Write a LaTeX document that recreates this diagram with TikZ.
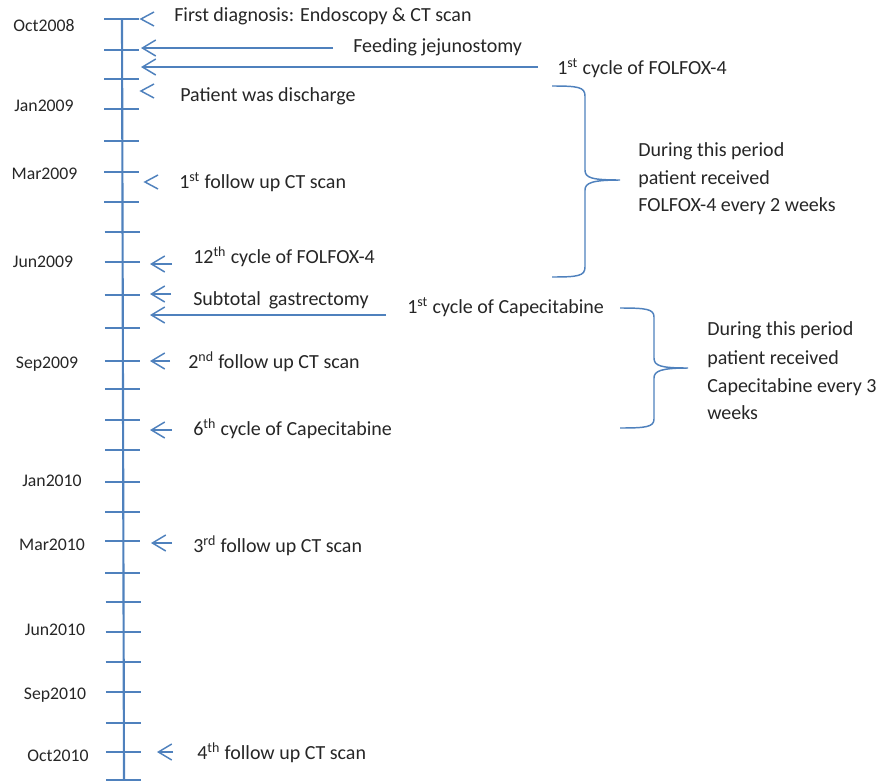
\documentclass[tikz,border=0pt]{standalone}
\usepackage{fontspec}
\setmainfont{Carlito}
\usetikzlibrary{arrows.meta}
\definecolor{lineblue}{HTML}{4F81BD}
\definecolor{txt}{HTML}{262626}
\begin{document}
\begin{tikzpicture}[x=0.75pt,y=-0.75pt,
  axisline/.style={lineblue,line width=1.6pt},
  tickline/.style={lineblue,line width=1.2pt},
  evt/.style={anchor=mid west,inner sep=0pt,yshift=-2.2pt,font=\fontsize{15}{18}\selectfont,text=txt},
  datelbl/.style={anchor=mid,inner sep=0pt,yshift=-2.2pt,font=\fontsize{13.3}{16}\selectfont,text=txt},
  ptr/.style={lineblue,line width=1.1pt,-{Straight Barb[length=10pt,width=12pt]}},
  chev/.style={lineblue,line width=1.1pt},
  bracepath/.style={lineblue,line width=1.1pt},
  note/.style={anchor=mid west,inner sep=0pt,yshift=-2.2pt,font=\fontsize{15}{18}\selectfont,text=txt}]
\path[use as bounding box] (0,0) rectangle (881,782);

% axis
\coordinate (axtop) at (122,19);
\coordinate (axbot) at (124,780);
\draw[axisline] (axtop) -- (axbot);
\foreach \ty in {19,50,79,109,141,172,202,232,262,295,328,361,389,420,450,482,512,541,573,602,632,662,692,723,752,780}{
  \pgfmathsetmacro\ax{122+2*(\ty-19)/761}
  \draw[tickline] ({\ax-18},\ty) -- ({\ax+17},\ty);
}

% date labels
\node[datelbl] (d1) at (44,25) {Oct2008};
\node[datelbl] (d2) at (44,105) {Jan2009};
\node[datelbl] (d3) at (44.5,173) {Mar2009};
\node[datelbl] (d4) at (43,261) {Jun2009};
\node[datelbl] (d5) at (47,362) {Sep2009};
\node[datelbl] (d6) at (52,480) {Jan2010};
\node[datelbl] (d7) at (52,544) {Mar2010};
\node[datelbl] (d8) at (55,629) {Jun2010};
\node[datelbl] (d9) at (55,693) {Sep2010};
\node[datelbl] (d10) at (58,755) {Oct2010};

% event labels
\node[evt] (e1) at (174,15) {First diagnosis: Endoscopy \& CT scan};
\node[evt] (e2) at (353,46) {Feeding jejunostomy};
\node[evt] (e3) at (557,68) {1\textsuperscript{st} cycle of FOLFOX-4};
\node[evt] (e4) at (180,95) {Patient was discharge};
\node[evt] (e5) at (179,182) {1\textsuperscript{st} follow up CT scan};
\node[evt] (e6) at (193,257) {12\textsuperscript{th} cycle of FOLFOX-4};
\node[evt] (e7) at (193,299) {Subtotal\, gastrectomy};
\node[evt] (e8) at (407,307) {1\textsuperscript{st} cycle of Capecitabine};
\node[evt] (e9) at (188,362) {2\textsuperscript{nd} follow up CT scan};
\node[evt] (e10) at (193,429) {6\textsuperscript{th} cycle of Capecitabine};
\node[evt] (e11) at (193,546) {3\textsuperscript{rd} follow up CT scan};
\node[evt] (e12) at (197,753) {4\textsuperscript{th} follow up CT scan};

% pointer tips and tails
\coordinate (t1) at (141,19);
\coordinate (t2) at (141,48);  \coordinate (s2) at (333,48);
\coordinate (t3) at (141,67);  \coordinate (s3) at (538,67);
\coordinate (t4) at (141,91);
\coordinate (t5) at (145,182);
\coordinate (t6) at (150,264); \coordinate (s6) at (172,264);
\coordinate (t7) at (150,294); \coordinate (s7) at (171,294);
\coordinate (t8) at (150,315); \coordinate (s8) at (386,315);
\coordinate (t9) at (150,361); \coordinate (s9) at (170,361);
\coordinate (t10) at (150,430); \coordinate (s10) at (172,430);
\coordinate (t11) at (151,543); \coordinate (s11) at (172,543);
\coordinate (t12) at (157,752); \coordinate (s12) at (173,752);

% chevrons without shaft
\foreach \t in {t1,t4,t5}{
  \draw[chev] ([shift={(13,-7)}]\t) -- (\t) -- ([shift={(13,7)}]\t);
}
% arrows with shaft
\foreach \s/\t in {s2/t2,s3/t3,s6/t6,s7/t7,s8/t8,s9/t9,s10/t10,s11/t11,s12/t12}{
  \draw[ptr] (\s) -- (\t);
}

% brace 1
\coordinate (b1top) at (552,86);
\coordinate (b1tip) at (620,180);
\coordinate (b1bot) at (552,277);
\draw[bracepath] (b1top) .. controls (578,86) and (585,87) .. (585,96) -- (585,170)
  .. controls (585,178) and (592,180) .. (b1tip)
  .. controls (592,180) and (585,183) .. (585,190) -- (585,267)
  .. controls (585,276) and (578,277) .. (b1bot);
\node[note] (n1a) at (638,150) {During this period};
\node[note] (n1b) at (638,178) {patient received};
\node[note] (n1c) at (638,205) {FOLFOX-4 every 2 weeks};

% brace 2
\coordinate (b2top) at (620,308);
\coordinate (b2tip) at (688,368);
\coordinate (b2bot) at (620,428);
\draw[bracepath] (b2top) .. controls (646,308) and (654,309) .. (654,317) -- (654,358)
  .. controls (654,366) and (661,368) .. (b2tip)
  .. controls (661,368) and (654,371) .. (654,378) -- (654,419)
  .. controls (654,427) and (646,428) .. (b2bot);
\node[note] (n2a) at (707,329) {During this period};
\node[note] (n2b) at (707,358) {patient received};
\node[note] (n2c) at (707,386) {Capecitabine every 3};
\node[note] (n2d) at (707,413) {weeks};
\end{tikzpicture}
\end{document}
